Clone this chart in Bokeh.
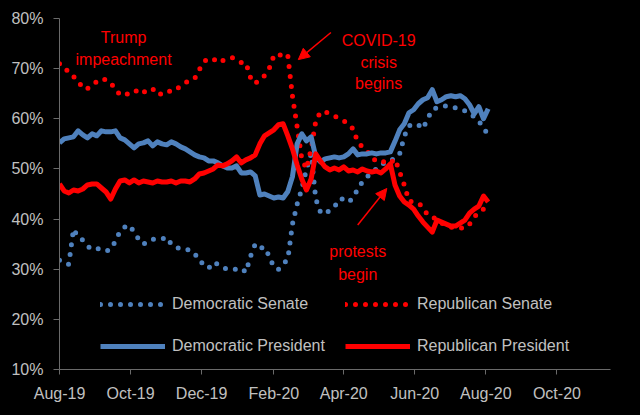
import pandas as pd
from bokeh.plotting import figure
from bokeh.models import (Range1d, FixedTicker, Legend, LegendItem, Label, Arrow,
                          NormalHead, ColumnDataSource)
from bokeh.embed import file_html
from bokeh.resources import INLINE

# ---------------- data ----------------
start_date = "2019-08-01"
step_days = 4

dem_president = [
    55.2, 56.0, 56.2, 56.4, 57.6, 56.8, 56.2, 57.0, 56.6, 57.6,
    57.4, 57.4, 57.6, 56.2, 55.8, 55.0, 54.2, 55.0, 55.2, 55.6,
    54.6, 55.4, 55.0, 54.8, 55.4, 55.0, 54.4, 54.0, 53.4, 52.8,
    52.4, 52.2, 51.6, 51.6, 51.2, 50.6, 50.2, 50.2, 50.6, 49.2,
    49.2, 49.4, 48.6, 44.8, 45.0, 44.6, 44.2, 44.4, 44.2, 45.5,
    48.5, 55.0, 57.0, 55.6, 56.4, 52.4, 51.4, 52.0, 52.2, 52.4,
    52.2, 52.4, 53.0, 54.0, 52.8, 53.0, 53.0, 53.2, 53.0, 53.2,
    53.2, 53.4, 55.5, 57.8, 59.0, 61.2, 61.8, 63.0, 63.8, 64.2,
    65.8, 63.4, 63.8, 64.4, 64.6, 64.4, 64.6, 64.0, 62.8, 61.0,
    62.4, 60.0, 62.0,
]
rep_president = [
    47.0, 45.6, 45.2, 45.8, 45.6, 46.0, 46.8, 47.0, 47.0, 46.2,
    45.4, 44.0, 46.0, 47.6, 47.8, 47.2, 47.8, 47.2, 47.6, 47.4,
    47.2, 47.6, 47.4, 47.4, 47.6, 47.2, 47.6, 47.6, 47.4, 48.0,
    49.0, 49.2, 49.6, 50.0, 50.8, 50.6, 51.0, 51.6, 52.4, 51.2,
    51.8, 52.2, 52.8, 55.0, 56.6, 57.2, 57.8, 58.8, 59.0, 56.6,
    54.0, 50.8, 48.0, 45.8, 48.0, 53.0, 51.6, 50.4, 49.8, 50.2,
    49.8, 50.4, 49.6, 49.8, 49.4, 50.0, 49.6, 49.4, 49.6, 49.2,
    50.0, 51.0, 46.8, 44.6, 43.4, 42.8, 42.0, 40.6, 39.4, 38.4,
    37.4, 39.8, 39.4, 39.0, 38.6, 38.6, 39.2, 39.8, 41.2, 42.0,
    42.6, 44.6, 43.4,
]
dem_senate = [
    31.8, 31.2, 31.0, 38.0, 36.4, 35.8, 34.6, 34.0, 34.2, 33.8,
    33.6, 34.0, 35.6, 37.6, 38.4, 38.8, 37.4, 36.0, 35.0, 35.6,
    36.0, 36.0, 36.0, 36.4, 35.0, 34.4, 34.0, 34.0, 33.8, 33.2,
    31.6, 31.0, 30.2, 31.4, 31.0, 30.4, 30.0, 30.0, 30.0, 30.2,
    29.4, 32.6, 35.0, 34.2, 34.4, 32.6, 30.4, 30.0, 31.0, 32.0,
    39.0, 43.0, 46.0, 50.0, 53.0, 44.0, 41.4, 41.0, 41.8, 42.4,
    44.0, 44.0, 43.4, 44.2, 46.0, 47.4, 48.4, 49.2, 50.0, 50.8,
    51.4, 51.8, 52.0, 53.0, 56.5, 58.6, 59.0, 58.8, 58.0, 60.0,
    61.8, 62.2, 62.4, 62.6, 62.4, 62.2, 62.0, 61.6, 61.0, 60.4,
    59.6, 58.0, 57.0,
]
rep_senate = [
    71.0, 70.4, 69.2, 68.4, 67.6, 66.0, 66.0, 66.8, 67.4, 68.0,
    67.8, 67.2, 65.8, 64.8, 64.6, 65.2, 65.2, 66.0, 65.4, 65.4,
    66.0, 64.8, 65.0, 65.6, 65.4, 65.8, 66.6, 67.2, 67.6, 68.0,
    69.8, 71.4, 72.0, 72.0, 71.2, 71.6, 72.0, 72.2, 71.8, 71.2,
    71.2, 68.2, 67.0, 68.0, 68.6, 70.0, 72.6, 73.0, 72.2, 72.6,
    64.5, 58.4, 52.0, 50.0, 54.0, 59.5, 61.4, 61.4, 61.0, 60.6,
    60.0, 59.6, 59.0, 58.0, 55.4, 54.4, 53.6, 52.2, 51.6, 51.2,
    51.6, 51.2, 52.0, 49.4, 46.8, 43.6, 43.4, 43.2, 42.4, 40.8,
    40.4, 40.0, 39.2, 38.8, 38.4, 38.2, 38.2, 38.2, 39.0, 40.4,
    41.4, 42.0, 43.0,
]

tick_dates = ["2019-08-01", "2019-10-01", "2019-12-01", "2020-02-01",
              "2020-04-01", "2020-06-01", "2020-08-01", "2020-10-01"]
tick_labels = ["Aug-19", "Oct-19", "Dec-19", "Feb-20",
               "Apr-20", "Jun-20", "Aug-20", "Oct-20"]
y_ticks = [10, 20, 30, 40, 50, 60, 70, 80]
y_tick_labels = ["10%", "20%", "30%", "40%", "50%", "60%", "70%", "80%"]
x_end_date = "2020-11-16"

legend_labels = ["Democratic Senate", "Republican Senate",
                 "Democratic President", "Republican President"]

# annotations: (text, center date, baseline value)
notes = [
    ("Trump", "2019-09-25", 76.2),
    ("impeachment", "2019-09-25", 71.8),
    ("COVID-19", "2020-05-01", 75.6),
    ("crisis", "2020-05-01", 71.3),
    ("begins", "2020-05-01", 67.0),
    ("protests", "2020-04-13", 33.6),
    ("begin", "2020-04-13", 29.0),
]
# arrows: (tail date, tail value, tip date, tip value)
arrows = [
    ("2020-03-21", 77.2, "2020-02-22", 71.8),
    ("2020-04-13", 38.8, "2020-05-08", 46.1),
]

# ---------------- helpers ----------------
t0 = pd.Timestamp(start_date)


def day(d):
    return (pd.Timestamp(d) - t0).days


x_days = [i * step_days for i in range(len(dem_president))]
src = ColumnDataSource(dict(x=x_days, dp=dem_president, rp=rep_president,
                            ds=dem_senate, rs=rep_senate))

BLUE = "#4F81BD"
RED = "#FF0000"
GRAY = "#c0c0c0"
AXIS = "#6a6a6a"
FONT = "Liberation Sans"

p = figure(width=640, height=415, output_backend="svg", toolbar_location=None,
           x_range=Range1d(0, day(x_end_date)), y_range=Range1d(10, 80),
           background_fill_color="black", border_fill_color="black",
           min_border_left=59, min_border_right=30, min_border_top=18,
           min_border_bottom=46)
p.outline_line_color = None
p.grid.visible = False

r_ds = p.line("x", "ds", source=src, line_color=BLUE, line_width=5,
              line_dash="0 10", line_cap="round")
r_rs = p.line("x", "rs", source=src, line_color=RED, line_width=5,
              line_dash="0 10", line_cap="round")
r_dp = p.line("x", "dp", source=src, line_color=BLUE, line_width=5,
              line_join="round")
r_rp = p.line("x", "rp", source=src, line_color=RED, line_width=5,
              line_join="round")

# axes
tick_days = [day(d) for d in tick_dates]
p.xaxis.ticker = FixedTicker(ticks=tick_days)
p.xaxis.major_label_overrides = {d: l for d, l in zip(tick_days, tick_labels)}
p.yaxis.ticker = FixedTicker(ticks=y_ticks)
p.yaxis.major_label_overrides = {v: l for v, l in zip(y_ticks, y_tick_labels)}
for ax in (p.xaxis, p.yaxis):
    ax.axis_line_color = AXIS
    ax.major_tick_line_color = AXIS
    ax.minor_tick_line_color = None
    ax.major_tick_in = 0
    ax.major_label_text_color = GRAY
    ax.major_label_text_font = FONT
    ax.major_label_text_font_size = "16px"
p.xaxis.major_tick_out = 5
p.xaxis.major_label_standoff = 10
p.yaxis.major_tick_out = 6
p.yaxis.major_label_standoff = 10


def make_legend(items, loc):
    lg = Legend(items=items, location=loc, orientation="vertical",
                background_fill_alpha=0, border_line_color=None,
                padding=0, margin=0, spacing=20,
                glyph_width=65, glyph_height=22, label_height=22,
                label_standoff=7, label_text_color=GRAY,
                label_text_font=FONT, label_text_font_size="16px")
    return lg


leg1 = make_legend([LegendItem(label=legend_labels[0], renderers=[r_ds]),
                    LegendItem(label=legend_labels[2], renderers=[r_dp])], (41, 12))
leg2 = make_legend([LegendItem(label=legend_labels[1], renderers=[r_rs]),
                    LegendItem(label=legend_labels[3], renderers=[r_rp])], (286, 12))
p.add_layout(leg1)
p.add_layout(leg2)

for txt, d, v in notes:
    p.add_layout(Label(x=day(d), y=v, text=txt, text_align="center",
                       text_baseline="alphabetic", text_color=RED,
                       text_font=FONT, text_font_size="16px"))

for d0, v0, d1, v1 in arrows:
    p.add_layout(Arrow(x_start=day(d0), y_start=v0, x_end=day(d1), y_end=v1,
                       line_color=RED, line_width=1.5,
                       end=NormalHead(size=11, fill_color=RED, line_color=RED)))

html = file_html(p, INLINE, title="Polling")
html = html.replace("</head>", "<style>html,body{background:#000;}</style></head>", 1)
open("out.html", "w").write(html)
